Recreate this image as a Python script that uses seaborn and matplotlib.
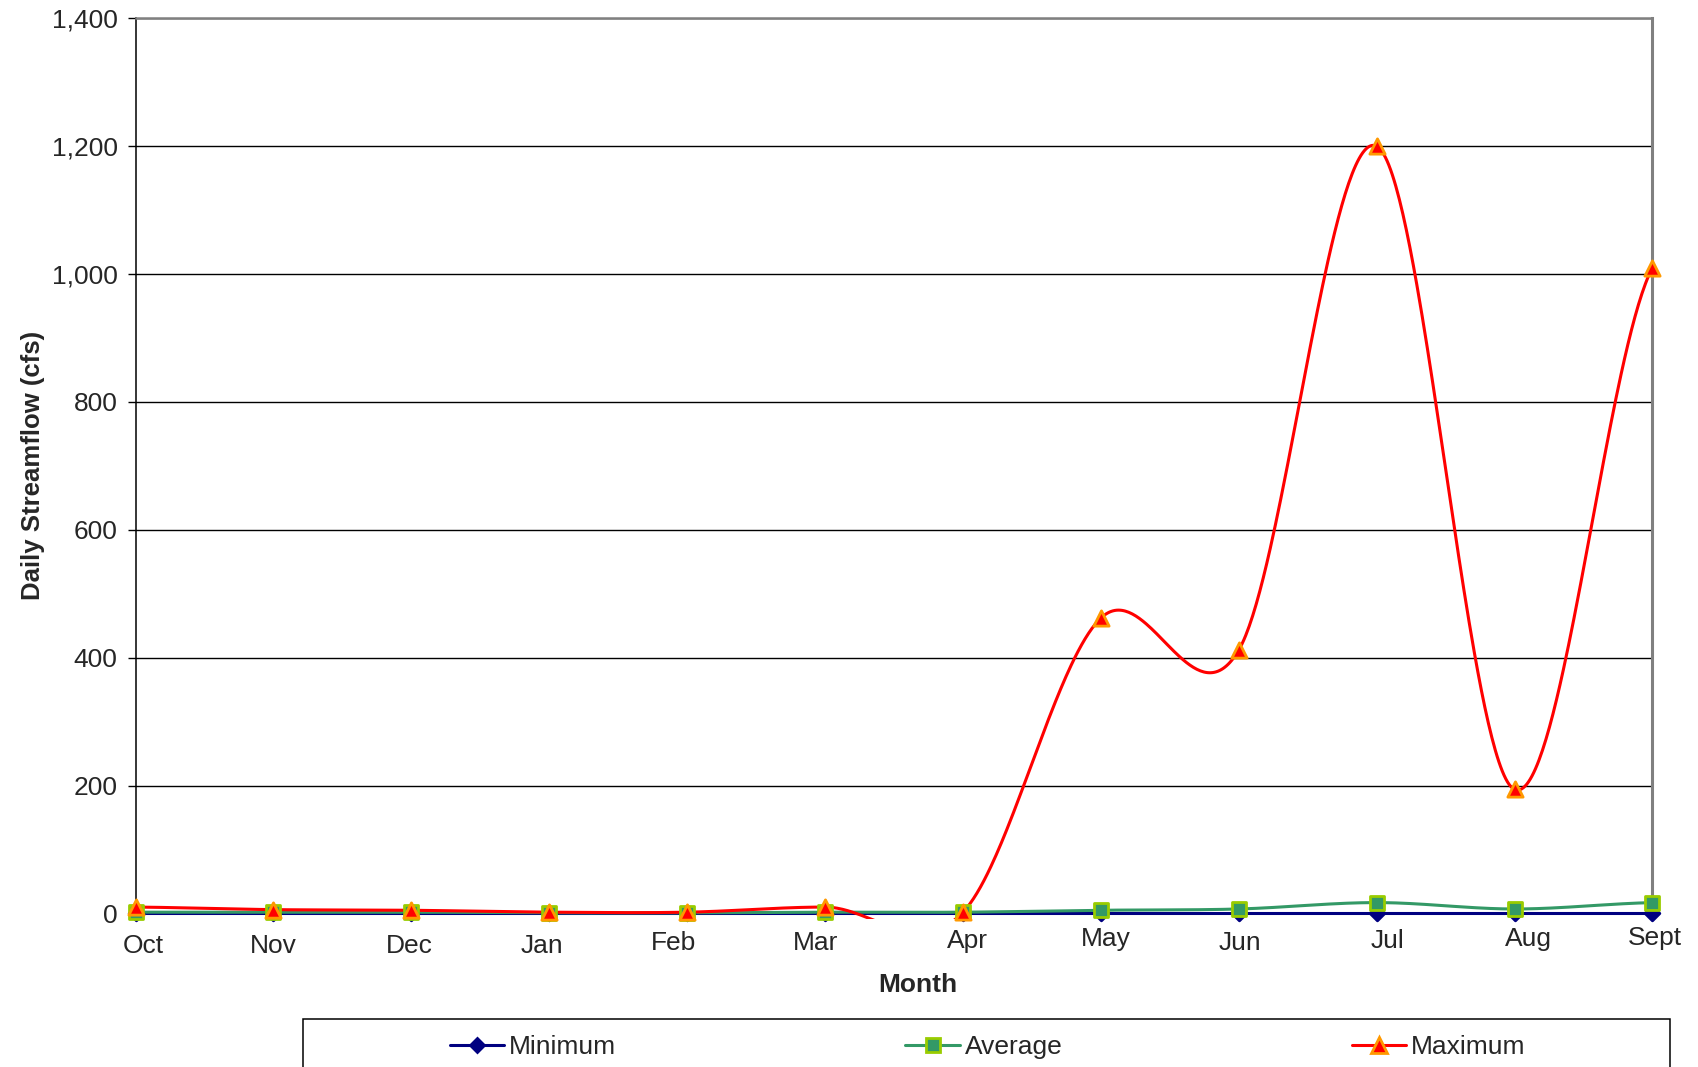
# Daily streamflow by month: minimum / average / maximum, Excel-style smoothed lines

import numpy as np
import seaborn as sns
import matplotlib.transforms as mtransforms
from matplotlib import pyplot as plt
from matplotlib.lines import Line2D
from matplotlib.patches import Rectangle

sns.set_style("white")
plt.rcParams["font.family"] = ["Liberation Sans", "DejaVu Sans"]

months = ["Oct", "Nov", "Dec", "Jan", "Feb", "Mar", "Apr", "May", "Jun", "Jul", "Aug", "Sept"]
minimum = [0.5, 0.5, 0.5, 0.5, 0.5, 0.5, 0.5, 0.5, 0.5, 0.5, 0.5, 0.5]
average = [2, 2, 2, 1, 1, 2, 2, 5, 7, 17, 7, 17]
maximum = [10, 6, 5, 2, 2, 10, 2, 462, 412, 1200, 194, 1010]

# label nudges in pixels (Excel places them a little unevenly)
label_dx = [8, 0, -2, -7, -14, -10, 4, 5, 1, 11, 14, 2]
label_dy = [0, 0, 0, 0, 3, 3, 5, 7, 3, 5, 7, 8]


# Excel "smoothed line": cubic Bezier with Catmull-Rom control points
def smooth(y, n=80):
    p = np.asarray(y, dtype=float)
    q = np.concatenate([[p[0]], p, [p[-1]]])
    xs, ys = [], []
    t = np.linspace(0, 1, n)
    for i in range(len(p) - 1):
        p0, p1, p2, p3 = q[i], q[i + 1], q[i + 2], q[i + 3]
        b1 = p1 + (p2 - p0) / 6
        b2 = p2 - (p3 - p1) / 6
        yy = (1 - t) ** 3 * p1 + 3 * (1 - t) ** 2 * t * b1 + 3 * (1 - t) * t ** 2 * b2 + t ** 3 * p2
        xs.append(i + t)
        ys.append(yy)
    return np.concatenate(xs), np.concatenate(ys)


fig = plt.figure(figsize=(16.99, 10.67), dpi=100)
ax = fig.add_axes([0.0798, 0.1439, 0.8928, 0.8389])

series = [
    ("Minimum", minimum, "#000080", "D", "#000080", "#000080", 7.5),
    ("Average", average, "#339966", "s", "#339966", "#99CC00", 10),
    ("Maximum", maximum, "#FF0000", "^", "#FF0000", "#FF9900", 11),
]

clip_rect = Rectangle((0, -0.006), 1, 1.012, transform=ax.transAxes, visible=False)
ax.add_patch(clip_rect)

handles = []
for name, vals, lc, mk, fc, ec, ms in series:
    xs, ys = smooth(vals)
    sns.lineplot(x=xs, y=ys, sort=False, estimator=None, color=lc, lw=2.2, ax=ax, zorder=3)
    line = ax.lines[-1]
    if name == "Maximum":
        line.set_clip_path(clip_rect)
    else:
        line.set_clip_on(False)
    sns.scatterplot(x=np.arange(len(vals)), y=vals, marker=mk, s=ms ** 2, color=fc,
                    edgecolor=ec, linewidth=2, ax=ax, zorder=4, clip_on=False)
    handles.append(Line2D([], [], color=lc, lw=2.2, marker=mk, markersize=ms,
                          markerfacecolor=fc, markeredgecolor=ec, markeredgewidth=2,
                          label=name))

ax.set_xlim(0, 11)
ax.set_ylim(0, 1400)
ax.set_yticks(np.arange(0, 1401, 200))
ax.yaxis.set_major_formatter(plt.FuncFormatter(lambda v, p: f"{v:,.0f}"))
ax.set_xticks(np.arange(len(months)))
ax.set_xticklabels(months)
ax.grid(axis="y", color="black", lw=1.0)
ax.grid(axis="x", visible=False)
ax.set_axisbelow(True)

ax.tick_params(axis="y", left=True, length=6, width=1, color="black", pad=7, labelsize=19)
ax.tick_params(axis="x", bottom=True, length=4, width=1, color="black", pad=11, labelsize=19)

for lab, dx, dy in zip(ax.get_xticklabels(), label_dx, label_dy):
    off = mtransforms.ScaledTranslation(dx / 100, dy / 100, fig.dpi_scale_trans)
    lab.set_transform(lab.get_transform() + off)

for side in ["left", "bottom"]:
    ax.spines[side].set_color("black")
    ax.spines[side].set_linewidth(1.1)
ax.spines["top"].set_color("#808080")
ax.spines["top"].set_linewidth(1.8)
ax.spines["right"].set_color("#808080")
ax.spines["right"].set_linewidth(2.2)

ax.set_ylabel("Daily Streamflow (cfs)", fontsize=18.5, fontweight="bold")
ax.yaxis.set_label_coords(-0.0597, 0.5)
ax.set_xlabel("Month", fontsize=19, fontweight="bold")
ax.xaxis.set_label_coords(0.516, -0.066)

fig.patches.append(Rectangle((0.1783, -0.05), 0.8046, 0.095, transform=fig.transFigure,
                             fill=False, edgecolor="black", lw=1.1))
fig.legend(handles=handles, loc="center left", bbox_to_anchor=(450 / 1699, 0.0187),
           ncol=3, frameon=False, fontsize=19, handlelength=2.05, handletextpad=0.2,
           columnspacing=10.95, borderpad=0, borderaxespad=0)

plt.savefig("out.png", dpi=100)
